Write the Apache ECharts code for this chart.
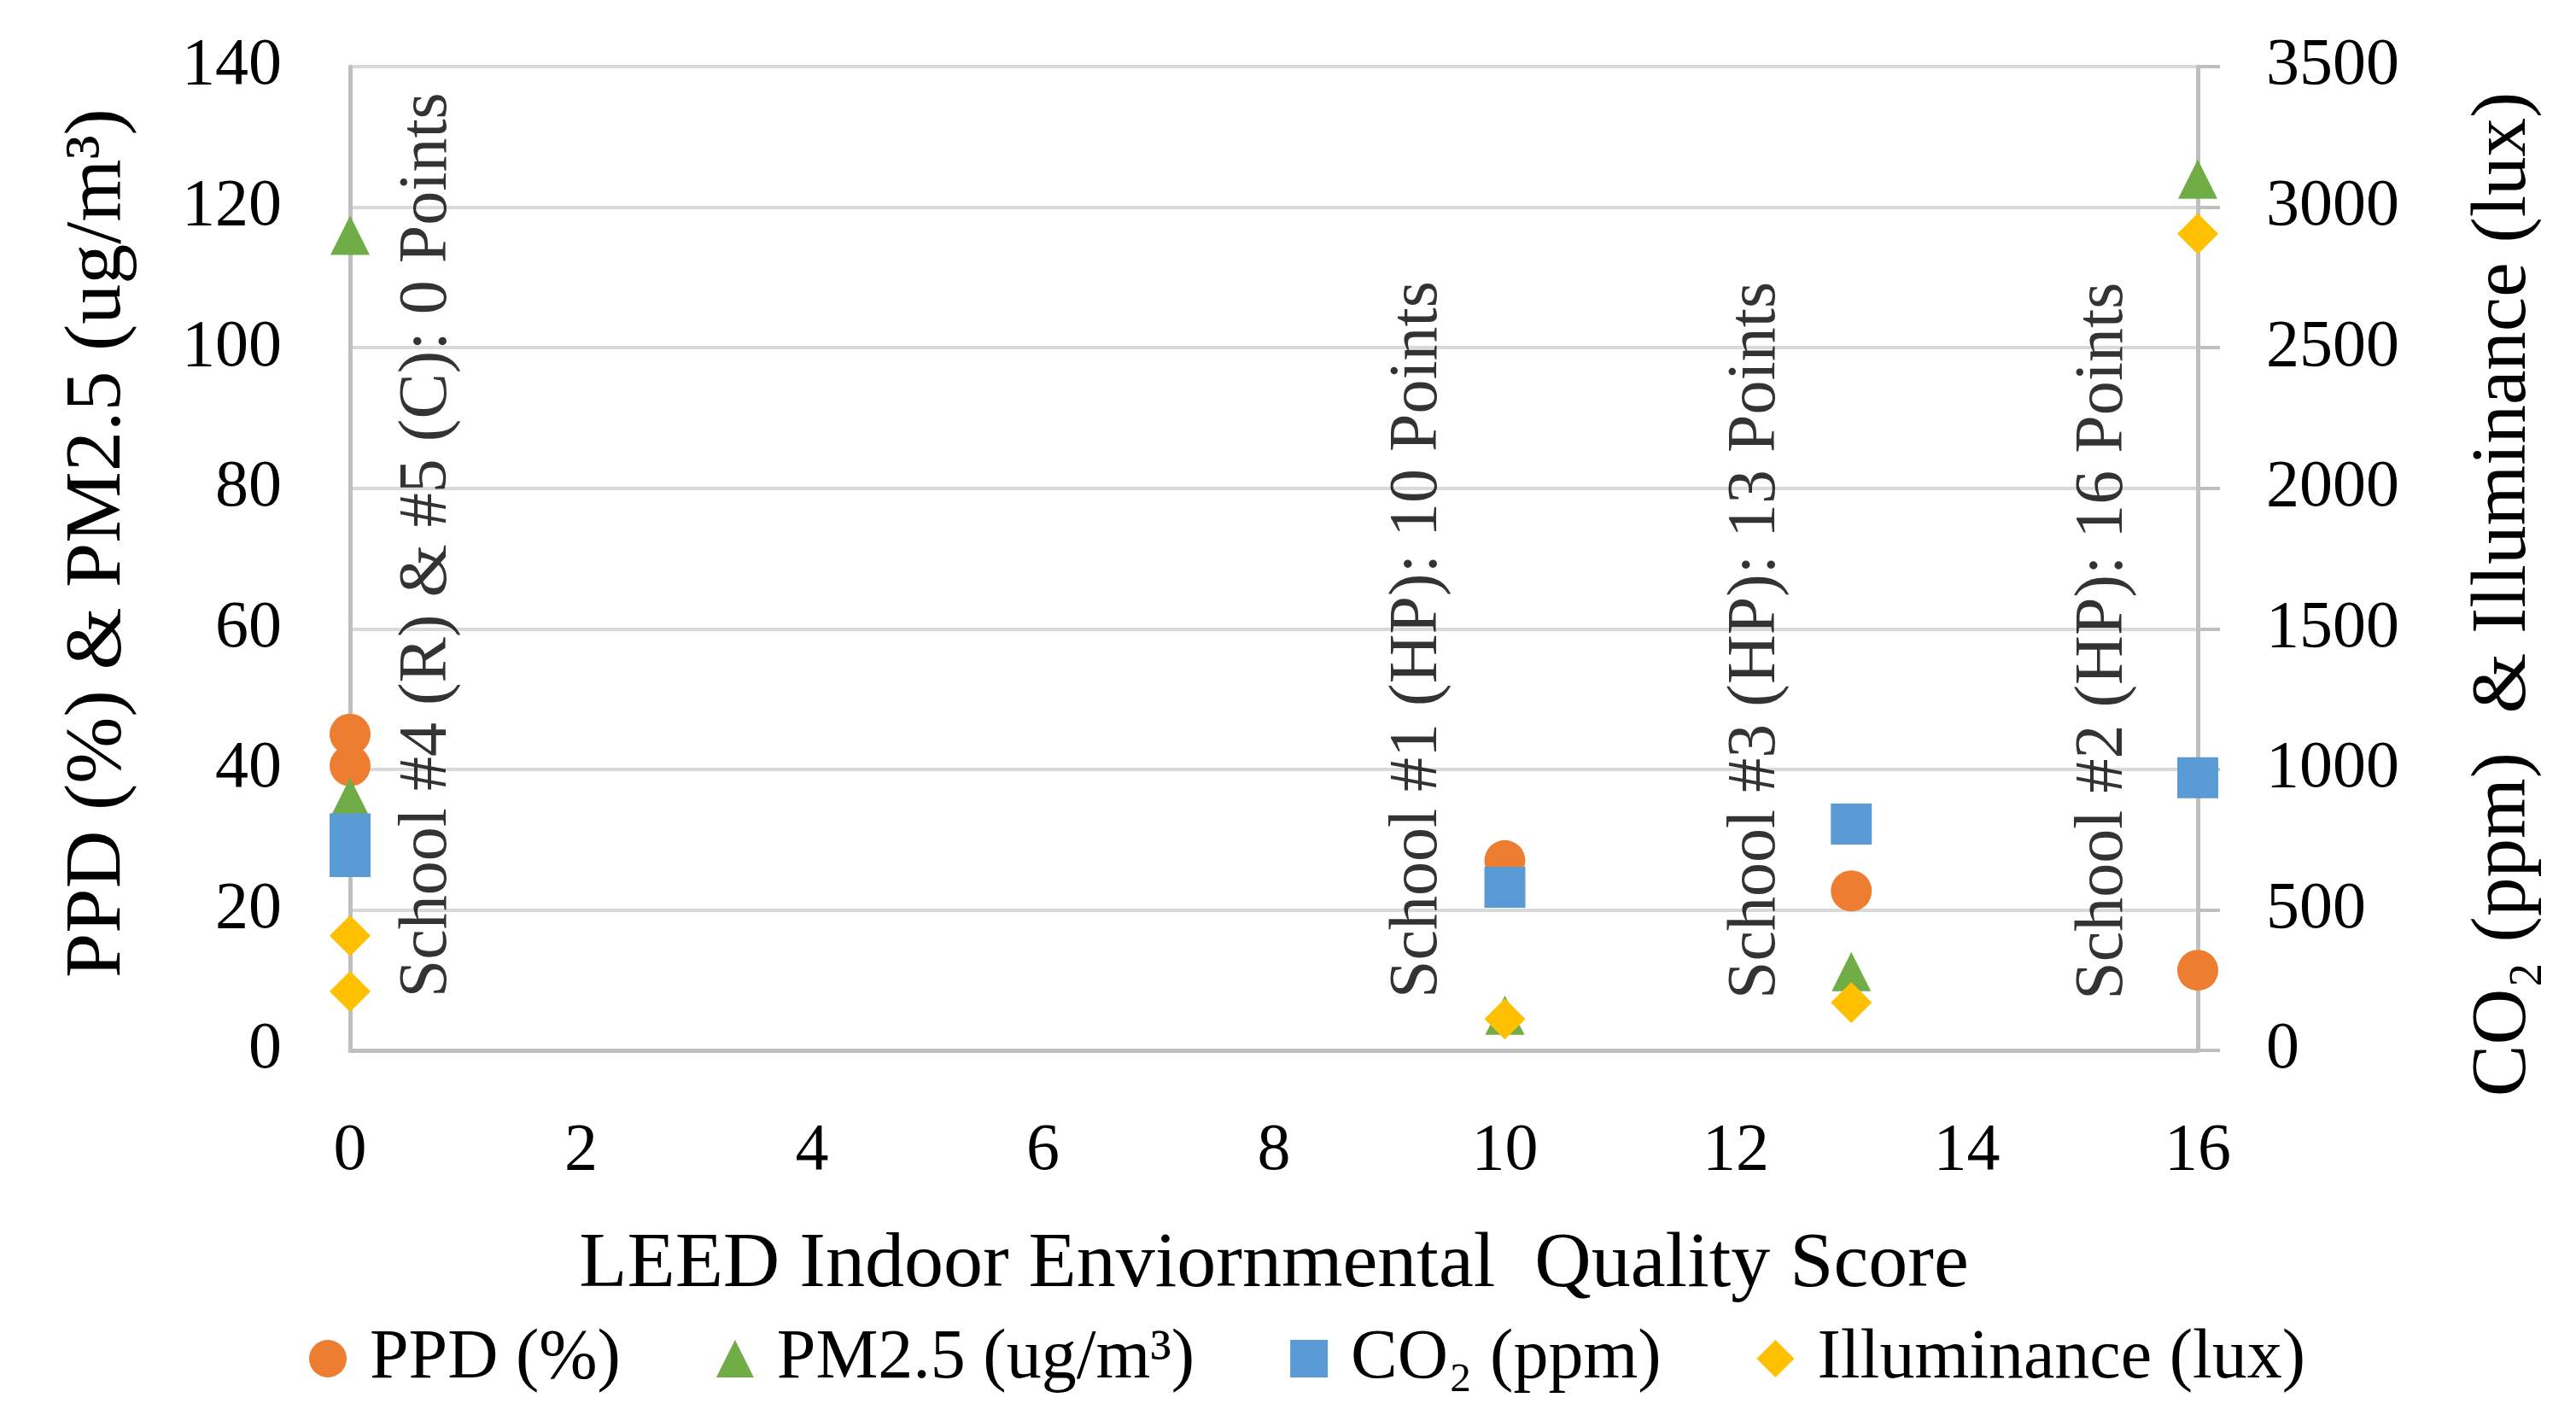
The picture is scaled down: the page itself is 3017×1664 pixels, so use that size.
<!DOCTYPE html>
<html>
<head>
<meta charset="utf-8">
<script src="https://cdn.jsdelivr.net/npm/echarts@6/dist/echarts.min.js"></script>
<style>
html,body{margin:0;padding:0;background:#fff;}
#chart{width:3017px;height:1664px;}
</style>
</head>
<body>
<div id="chart"></div>
<script>
// ---- data ----
const ppd = [[0, 45], [0, 40.5], [10, 27], [13, 22.7], [16, 11.4]];
const pm25 = [[0, 116], [0, 36], [10, 5], [13, 11.2], [16, 124]];
const co2 = [[0, 770], [0, 690], [10, 580], [13, 805], [16, 970]];
const illuminance = [[0, 408], [0, 210], [10, 112], [13, 170], [16, 2905]];
const annotationTexts = [
  'School #4 (R) & #5 (C): 0 Points',
  'School #1 (HP): 10 Points',
  'School #3 (HP): 13 Points',
  'School #2 (HP): 16 Points'
];
const annotationX = [0.67, 9.25, 12.18, 15.19];
const annotationY = [7.5, 7.4, 7.3, 7.2];
const seriesNames = ['PPD (%)', 'PM2.5 (ug/m³)', 'CO₂ (ppm)', 'Illuminance (lux)'];
const xTicks = { min: 0, max: 16, interval: 2 };
const yLeftTicks = { min: 0, max: 140, interval: 20 };
const yRightTicks = { min: 0, max: 3500, interval: 500 };

const FONT = 'Liberation Serif';
const colors = ['#ED7D31', '#70AD47', '#5B9BD5', '#FFC000'];

const chart = echarts.init(document.getElementById('chart'), null, { renderer: 'canvas' });
const annData = annotationTexts.map((t, i) => ({ name: t, value: [annotationX[i], annotationY[i]] }));
const plain = v => String(v);

chart.setOption({
  animation: false,
  backgroundColor: '#ffffff',
  textStyle: { fontFamily: FONT, color: '#000' },
  grid: { left: 410, right: 443, top: 78, bottom: 434, containLabel: false },
  legend: {
    data: seriesNames.map((n, i) => ({ name: n, icon: ['circle', 'triangle', 'rect', 'diamond'][i] })),
    left: 357,
    top: 1545,
    itemWidth: 44,
    itemHeight: 44,
    itemGap: 112,
    textStyle: { fontFamily: FONT, fontSize: 82, color: '#000', padding: [0, 0, 0, 22] }
  },
  xAxis: {
    type: 'value',
    min: xTicks.min, max: xTicks.max, interval: xTicks.interval,
    name: 'LEED Indoor Enviornmental  Quality Score',
    nameLocation: 'middle',
    nameGap: 206,
    nameTextStyle: { fontFamily: FONT, fontSize: 92, color: '#000' },
    axisLine: { show: true, onZero: false, lineStyle: { color: '#BFBFBF', width: 5 } },
    axisTick: { show: false },
    splitLine: { show: false },
    axisLabel: { fontFamily: FONT, fontSize: 78, color: '#000', margin: 80, formatter: plain }
  },
  yAxis: [
    {
      type: 'value',
      min: yLeftTicks.min, max: yLeftTicks.max, interval: yLeftTicks.interval,
      position: 'left',
      name: 'PPD (%) & PM2.5 (ug/m³)',
      nameLocation: 'middle',
      nameGap: 248,
      nameRotate: 90,
      nameTextStyle: { fontFamily: FONT, fontSize: 94, color: '#000', padding: [0, 0, 0, 36] },
      axisLine: { show: true, onZero: false, lineStyle: { color: '#BFBFBF', width: 5 } },
      axisTick: { show: false },
      splitLine: { show: true, lineStyle: { color: '#D9D9D9', width: 4 } },
      axisLabel: { fontFamily: FONT, fontSize: 78, color: '#000', margin: 80, formatter: plain }
    },
    {
      type: 'value',
      min: yRightTicks.min, max: yRightTicks.max, interval: yRightTicks.interval,
      position: 'right',
      name: 'CO₂ (ppm)  & Illuminance (lux)',
      nameLocation: 'middle',
      nameGap: 314,
      nameRotate: 90,
      nameTextStyle: { fontFamily: FONT, fontSize: 91, color: '#000', padding: [0, 84, 0, 0] },
      axisLine: { show: true, onZero: false, lineStyle: { color: '#BFBFBF', width: 5 } },
      axisTick: { show: true, inside: false, length: 26, lineStyle: { color: '#BFBFBF', width: 4 } },
      splitLine: { show: false },
      axisLabel: { fontFamily: FONT, fontSize: 78, color: '#000', margin: 80, formatter: plain }
    }
  ],
  series: [
    { name: seriesNames[0], type: 'scatter', yAxisIndex: 0, symbol: 'circle', symbolSize: 48, itemStyle: { color: colors[0], opacity: 1 }, data: ppd, z: 2 },
    { name: seriesNames[1], type: 'scatter', yAxisIndex: 0, symbol: 'triangle', symbolSize: 46, itemStyle: { color: colors[1], opacity: 1 }, data: pm25, z: 3 },
    { name: seriesNames[2], type: 'scatter', yAxisIndex: 1, symbol: 'rect', symbolSize: 48, itemStyle: { color: colors[2], opacity: 1 }, data: co2, z: 4 },
    { name: seriesNames[3], type: 'scatter', yAxisIndex: 1, symbol: 'diamond', symbolSize: [48, 48], itemStyle: { color: colors[3], opacity: 1 }, data: illuminance, z: 5 },
    {
      name: 'annotations', type: 'scatter', yAxisIndex: 0, symbolSize: 0, silent: true, z: 6,
      data: annData,
      label: {
        show: true, position: 'inside', rotate: 90, align: 'left', verticalAlign: 'middle',
        formatter: p => p.name,
        fontFamily: FONT, fontSize: 80, color: '#000'
      }
    }
  ]
});
</script>
</body>
</html>
